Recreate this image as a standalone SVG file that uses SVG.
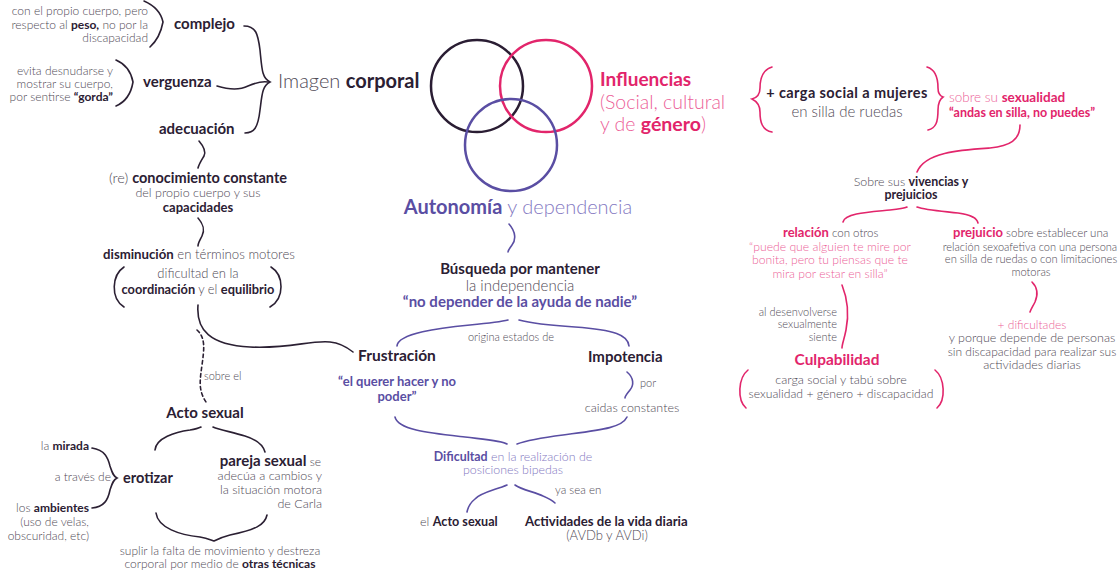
<svg xmlns="http://www.w3.org/2000/svg" width="1120" height="572" viewBox="0 0 1120 572">
<style>
text{font-family:Lato,"Noto Sans","Liberation Sans",sans-serif;fill:#504a56;font-weight:300}
.b{font-weight:700}
.dk{fill:#2b2033}
.pk{fill:#e2256b}
.lp{fill:#ec5f98}
.pu{fill:#5a4ea3}
.lpu{fill:#8479c2}
.s{font-size:12px}
.t{font-size:11px}
.e{text-anchor:end}
.m{text-anchor:middle}
.cd{stroke:#2b2033}
.cp{stroke:#5a4ea3}
.ck{stroke:#e2256b}
#connectors path{fill:none;stroke-width:1.6;stroke-linecap:round}
</style>
<rect width="1120" height="572" fill="#ffffff"/>
<g id="connectors">
<path class="cd" d="M144,1 Q160,8 163,22 Q160,38 150,47"/>
<path class="cd" d="M244,26 C256,26 258,34 260,50 C262,70 262,78 270,82 C262,86 262,95 260,110 C258,128 254,133 245,133"/>
<path class="cd" d="M217,86 C230,90 240,90 248,86 C255,83 262,81 268,82"/>
<path class="cd" d="M116,60 Q130,66 133,82 Q130,100 116,106"/>
<path class="cd" d="M199,141 C205,148 206,152 204,156 C201,161 199,164 198,168"/>
<path class="cd" d="M198,218 C204,225 205,230 202,236 C200,240 198,243 198,246"/>
<path class="cd" d="M124,267 C112,275 110,298 124,307"/>
<path class="cd" d="M271,267 C284,275 285,298 270,307"/>
<path class="cd" d="M198,305 C196,330 210,345 250,347 C290,349 310,340 330,342 C340,343 348,348 353,352"/>
<path class="cd" d="M197,330 C206,338 204,350 202,365 C200,380 198,390 206,402" stroke-dasharray="3.5,3"/>
<path class="cd" d="M155,450 C156,438 175,432 190,430 C196,429 199,428 201,427"/>
<path class="cd" d="M213,427 C220,430 232,432 245,436 C258,440 263,445 265,452"/>
<path class="cd" d="M92,448 C105,450 108,458 110,466 C112,472 113,476 117,478 C113,480 112,484 110,490 C108,500 104,507 92,508"/>
<path class="cd" d="M156,513 C158,528 180,535 200,537 C207,538 211,540 214,541 C218,539 222,537 230,535 C255,530 265,525 267,515"/>
<path class="cp" d="M509,224 C516,232 516,240 512,245 C510,248 508,250 508,252"/>
<path class="cp" d="M397,346 C398,333 440,328 470,325 C490,323 500,322 508,320"/>
<path class="cp" d="M519,320 C530,323 545,325 575,327 C615,330 628,335 629,346"/>
<path class="cp" d="M627,372 C634,378 634,385 630,390 C627,394 625,396 625,398"/>
<path class="cp" d="M395,417 C398,430 430,433 465,437 C490,440 503,441 507,444"/>
<path class="cp" d="M517,444 C525,441 540,438 563,435 C600,430 622,428 627,417"/>
<path class="cp" d="M507,485 C495,490 480,493 475,499 C470,503 468,507 467,512"/>
<path class="cp" d="M515,485 C522,490 535,492 543,496 C550,499 553,501 555,503"/>
<path class="ck" d="M772,67 C762,70 760,80 760,88 C760,95 756,98 752,99 C756,101 760,105 760,112 C760,122 762,130 772,132"/>
<path class="ck" d="M927,67 C937,70 938,80 938,88 C938,94 940,96 943,97 C940,99 938,102 938,110 C938,122 936,128 928,130"/>
<path class="ck" d="M1020,125 C1020,140 1010,146 990,148 C960,150 925,152 917,172"/>
<path class="ck" d="M843,222 C845,213 870,212 890,210 C900,209 905,208 907,207"/>
<path class="ck" d="M917,207 C925,210 940,211 958,213 C972,215 977,218 978,223"/>
<path class="ck" d="M842,285 C848,300 849,315 846,330 C844,340 842,344 842,348"/>
<path class="ck" d="M748,370 C738,378 737,400 746,408"/>
<path class="ck" d="M935,370 C945,378 946,400 937,408"/>
<path class="ck" d="M1032,282 C1038,288 1038,295 1035,302 C1033,306 1031,309 1030,312"/>
</g>
<g id="venn" fill="none" stroke-width="2.5">
<circle cx="477" cy="86" r="46" stroke="#2a1d33"/>
<circle cx="546" cy="86" r="46" stroke="#e2256b"/>
<circle cx="511" cy="145" r="46" stroke="#5a4ea3"/>
</g>
<g id="n-peso"><text class="s e" x="148" y="15">con el propio cuerpo, pero</text><text class="s e" x="148" y="29">respecto al <tspan class="b dk">peso,</tspan> no por la</text><text class="s e" x="148" y="42">discapacidad</text></g>
<g id="n-complejo"><text class="b dk" x="174" y="29" font-size="15">complejo</text></g>
<g id="n-evita"><text class="s e" x="113" y="75">evita desnudarse y</text><text class="s e" x="113" y="88">mostrar su cuerpo,</text><text class="s e" x="113" y="101">por sentirse <tspan class="b dk">“gorda”</tspan></text></g>
<g id="n-verguenza"><text class="b dk" x="143" y="87" font-size="15">verguenza</text></g>
<g id="n-adecuacion"><text class="b dk" x="159" y="134" font-size="15">adecuación</text></g>
<g id="n-imagen"><text x="278" y="88" font-size="20" fill="#4a4550">Imagen <tspan class="b dk">corporal</tspan></text></g>
<g id="n-influencias"><text class="b pk" x="600" y="86" font-size="19">Influencias</text><text class="lp" x="600" y="109" font-size="19.5">(Social, cultural</text><text class="lp" x="600" y="131" font-size="19.5">y de <tspan class="b pk">género</tspan>)</text></g>
<g id="n-autonomia"><text class="m lpu" x="518" y="214" font-size="20"><tspan class="b pu">Autonomía</tspan> y dependencia</text></g>
<g id="n-conocimiento"><text class="m" x="198" y="183" font-size="14.5">(re) <tspan class="b dk">conocimiento constante</tspan></text><text class="m" x="198" y="197" font-size="12.5">del propio cuerpo y sus</text><text class="b dk m" x="198" y="212" font-size="13">capacidades</text></g>
<g id="n-disminucion"><text class="m" x="199" y="259" font-size="13.2"><tspan class="b dk">disminución</tspan> en términos motores</text><text class="m" x="198" y="278" font-size="13">dificultad en la</text><text class="m" x="198" y="294" font-size="12.8"><tspan class="b dk">coordinación</tspan> y el <tspan class="b dk">equilibrio</tspan></text></g>
<g id="n-sobreel"><text class="t" x="204" y="380">sobre el</text></g>
<g id="n-acto"><text class="b dk m" x="205" y="418" font-size="15">Acto sexual</text></g>
<g id="n-mirada"><text class="e" x="89" y="450" font-size="12">la <tspan class="b dk">mirada</tspan></text></g>
<g id="n-atraves"><text class="e" x="111" y="481" font-size="12">a través de</text></g>
<g id="n-ambientes"><text class="e" x="89" y="512" font-size="12">los <tspan class="b dk">ambientes</tspan></text><text class="e" x="89" y="526" font-size="12">(uso de velas,</text><text class="e" x="89" y="540" font-size="12">obscuridad, etc)</text></g>
<g id="n-erotizar"><text class="b dk" x="123" y="483" font-size="14.5">erotizar</text></g>
<g id="n-pareja"><text class="e" x="321" y="466" font-size="12"><tspan class="b dk" font-size="15">pareja sexual</tspan> se</text><text class="e" x="322" y="480" font-size="12.5">adecúa a cambios y</text><text class="e" x="322" y="494" font-size="12.5">la situación motora</text><text class="e" x="322" y="508" font-size="12.5">de Carla</text></g>
<g id="n-suplir"><text class="s m" x="220" y="555">suplir la falta de movimiento y destreza</text><text class="s m" x="220" y="568">corporal por medio de <tspan class="b dk">otras técnicas</tspan></text></g>
<g id="n-busqueda"><text class="b dk m" x="520" y="274" font-size="15">Búsqueda por mantener</text><text class="m" x="520" y="291" font-size="15">la independencia</text><text class="b pu m" x="520" y="307" font-size="15">“no depender de la ayuda de nadie”</text></g>
<g id="n-origina"><text class="t m" x="511" y="341">origina estados de</text></g>
<g id="n-frustracion"><text class="b dk" x="358" y="361" font-size="15.5">Frustración</text><text class="b pu m" x="397" y="386" font-size="13">“el querer hacer y no</text><text class="b pu m" x="397" y="401" font-size="13">poder”</text></g>
<g id="n-impotencia"><text class="b dk" x="588" y="362" font-size="15">Impotencia</text></g>
<g id="n-por"><text class="t" x="640" y="387">por</text><text class="m" x="632" y="412" font-size="12.5">caidas constantes</text></g>
<g id="n-dificultad"><text class="m lpu" x="513" y="461" font-size="12.4"><tspan class="b pu">Dificultad</tspan> en la realización de</text><text class="m lpu" x="513" y="474" font-size="12.4">posiciones bipedas</text></g>
<g id="n-yasea"><text x="555" y="494" font-size="11.5">ya sea en</text></g>
<g id="n-elacto"><text x="420" y="526" font-size="12.6">el <tspan class="b dk">Acto sexual</tspan></text></g>
<g id="n-actividades"><text class="b dk" x="525" y="526" font-size="13.2">Actividades de la vida diaria</text><text class="m" x="607" y="540" font-size="13">(AVDb y AVDi)</text></g>
<g id="n-carga"><text class="b dk m" x="847" y="98" font-size="14.5" letter-spacing="0.4">+ carga social a mujeres</text><text class="m" x="847" y="117" font-size="15">en silla de ruedas</text></g>
<g id="n-sexualidad"><text class="lp" x="949" y="102" font-size="13.5">sobre su <tspan class="b pk">sexualidad</tspan></text><text class="b pk" x="949" y="117" font-size="12.5">“andas en silla, no puedes”</text></g>
<g id="n-vivencias"><text class="m" x="911" y="186" font-size="12.4">Sobre sus <tspan class="b dk">vivencias y</tspan></text><text class="m b dk" x="911" y="199" font-size="12.4">prejuicios</text></g>
<g id="n-relacion"><text x="783" y="237" font-size="11.5"><tspan class="b pk" font-size="13">relación</tspan> con otros</text><text class="m lp" x="830" y="251" font-size="12.2">“puede que alguien te mire por</text><text class="m lp" x="830" y="264" font-size="12.2">bonita, pero tu piensas que te</text><text class="m lp" x="830" y="278" font-size="12.2">mira por estar en silla”</text></g>
<g id="n-prejuicio"><text x="953" y="237" font-size="11.5"><tspan class="b pk" font-size="13">prejuicio</tspan> sobre establecer una</text><text class="m" x="1030" y="251" font-size="11">relación sexoafetiva con una persona</text><text class="m" x="1031" y="263" font-size="11.2">en silla de ruedas o con limitaciones</text><text class="m" x="1031" y="276" font-size="11.2">motoras</text></g>
<g id="n-desenvolverse"><text class="t e" x="837" y="316">al desenvolverse</text><text class="t e" x="837" y="328">sexualmente</text><text class="t e" x="837" y="341">siente</text></g>
<g id="n-culpabilidad"><text class="b pk m" x="837" y="365" font-size="15.4">Culpabilidad</text><text class="m" x="841" y="384" font-size="12.5">carga social y tabú sobre</text><text class="m" x="841" y="398" font-size="12.2">sexualidad + género + discapacidad</text></g>
<g id="n-dificultades"><text class="m lp" x="1032" y="329" font-size="12">+ dificultades</text><text class="m" x="1032" y="342" font-size="12.5">y porque depende de personas</text><text class="m" x="1032" y="356" font-size="12">sin discapacidad para realizar sus</text><text class="m" x="1032" y="369" font-size="12.5">actividades diarias</text></g>
</svg>
